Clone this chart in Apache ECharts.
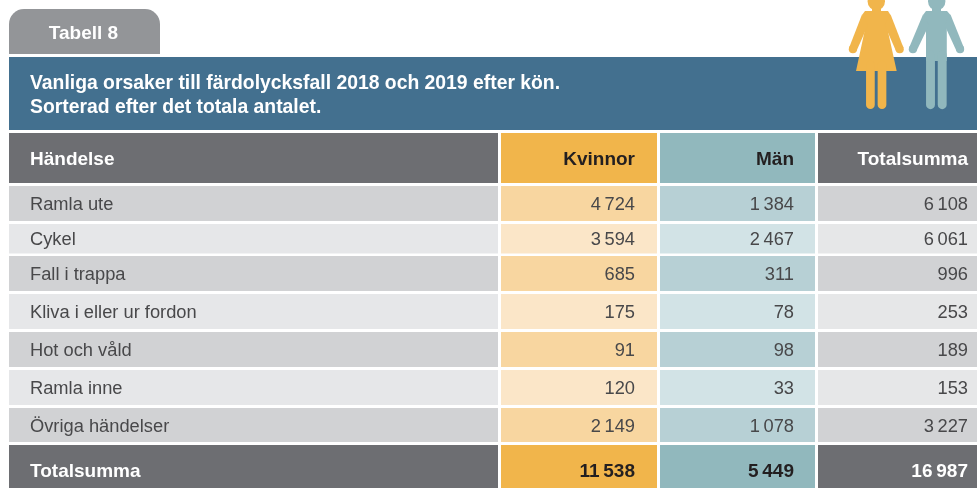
<!DOCTYPE html>
<html><head><meta charset="utf-8">
<style>html,body{margin:0;padding:0;background:#fff}#c{width:977px;height:488px}</style>
<script src="https://cdn.jsdelivr.net/npm/echarts@6/dist/echarts.min.js"></script>
</head><body><div id="c"></div>
<script>
const tabLabel = 'Tabell 8';
const titleLines = ['Vanliga orsaker till färdolycksfall 2018 och 2019 efter kön.', 'Sorterad efter det totala antalet.'];
const columns = ['Händelse', 'Kvinnor', 'Män', 'Totalsumma'];
const categories = ['Ramla ute', 'Cykel', 'Fall i trappa', 'Kliva i eller ur fordon', 'Hot och våld', 'Ramla inne', 'Övriga händelser'];
const kvinnor = [4724, 3594, 685, 175, 91, 120, 2149];
const man = [1384, 2467, 311, 78, 98, 33, 1078];
const totalsumma = [6108, 6061, 996, 253, 189, 153, 3227];
const sumLabel = 'Totalsumma';
const sumRow = [11538, 5449, 16987];

const colEdges = [[9, 498], [501, 657], [660, 815], [818, 977]];
const rowEdges = [[133, 183], [186, 221], [224, 253.5], [256, 291], [294, 329], [332, 367], [370, 405], [408, 442], [445, 488]];
const colTextX = [30, 635, 794, 968];
const rowTextY = [159.5, 204.5, 240, 274.5, 312.5, 350.5, 388.5, 426.5, 471.5];
const HEAD = '#6d6e72', ORANGE = '#f1b54b', TEAL = '#91b8bd', BLUE = '#43708f', TAB = '#939598';
const fills = {
  head: [HEAD, ORANGE, TEAL, HEAD],
  dark: ['#d1d2d4', '#f8d6a0', '#b7d0d5', '#d1d2d4'],
  light: ['#e6e7e9', '#fbe6c8', '#d2e3e6', '#e6e7e8']
};
const BODY = '18.3px "Liberation Sans", Arial, sans-serif';
const BOLD = 'bold 19px "Liberation Sans", Arial, sans-serif';
const TITLE = 'bold 19.35px "Liberation Sans", Arial, sans-serif';
const fmt = v => String(v).replace(/\B(?=(\d{3})+$)/g, '\u2009');

const cells = [];
columns.forEach((c, i) => cells.push([i, 0, c, 'head']));
categories.forEach((c, r) => {
  const t = r % 2 ? 'light' : 'dark';
  cells.push([0, r + 1, c, t], [1, r + 1, fmt(kvinnor[r]), t], [2, r + 1, fmt(man[r]), t], [3, r + 1, fmt(totalsumma[r]), t]);
});
cells.push([0, 8, sumLabel, 'head']);
sumRow.forEach((v, i) => cells.push([i + 1, 8, fmt(v), 'head']));

function renderCell(p, api) {
  const col = api.value(0), row = api.value(1), text = cells[p.dataIndex][2], tone = cells[p.dataIndex][3];
  const a = api.coord([colEdges[col][0], rowEdges[row][0]]);
  const b = api.coord([colEdges[col][1], rowEdges[row][1]]);
  const bold = tone === 'head';
  const white = bold && (col === 0 || col === 3);
  return { type: 'group', children: [
    { type: 'rect', shape: { x: a[0], y: a[1], width: b[0] - a[0], height: b[1] - a[1] }, style: { fill: fills[tone][col] } },
    { type: 'text', style: {
      x: api.coord([colTextX[col], 0])[0], y: api.coord([0, rowTextY[row]])[1], text,
      fill: white ? '#ffffff' : (bold ? '#231f20' : '#48484a'),
      font: bold ? BOLD : BODY,
      align: col === 0 ? 'left' : 'right', verticalAlign: 'middle' } }
  ] };
}

const poly = (points, c) => ({ type: 'polygon', shape: { points }, style: { fill: c }, z: 10 });
const dot = (cx, cy, r, c) => ({ type: 'circle', shape: { cx, cy, r }, style: { fill: c }, z: 10 });
const limb = (x, y1, y2, w, c) => ({ type: 'line', shape: { x1: x, y1, x2: x, y2 }, style: { stroke: c, lineWidth: w, lineCap: 'round' }, z: 10 });
const person = [
  // woman
  dot(876.3, 1.5, 8.7, ORANGE),
  poly([[872, 8], [881, 8], [881, 12], [872, 12]], ORANGE),
  poly([[865, 11], [888, 11], [890.5, 15], [887, 27], [896.7, 71], [856, 71], [865.5, 27], [862, 15]], ORANGE),
  poly([[862, 14.5], [868, 25], [856.5, 51], [849.2, 47.5]], ORANGE), dot(852.9, 49.2, 4.1, ORANGE),
  poly([[890.6, 14.5], [884.6, 25], [896, 51], [903.4, 47.5]], ORANGE), dot(899.7, 49.2, 4.1, ORANGE),
  limb(870.4, 65, 104.7, 8.7, ORANGE), limb(882, 65, 104.7, 8.7, ORANGE),
  // man
  dot(936.7, 1.5, 8.7, TEAL),
  poly([[932, 8], [941, 8], [941, 12], [932, 12]], TEAL),
  poly([[926, 11], [947, 11], [950.5, 15], [946.8, 27], [946.8, 61], [926, 61], [926, 27], [923, 15]], TEAL),
  poly([[923, 14.5], [929, 25], [916.5, 51], [909.2, 47.5]], TEAL), dot(912.9, 49.2, 4.1, TEAL),
  poly([[950.5, 14.5], [944.5, 25], [956.5, 51], [963.8, 47.5]], TEAL), dot(960.1, 49.2, 4.1, TEAL),
  limb(930.5, 55, 104.7, 8.9, TEAL), limb(942.2, 55, 104.7, 8.9, TEAL)
];

const chart = echarts.init(document.getElementById('c'), null, { renderer: 'canvas' });
chart.setOption({
  animation: false,
  backgroundColor: '#ffffff',
  grid: { left: 0, right: 0, top: 0, bottom: 0 },
  xAxis: { type: 'value', min: 0, max: 977, show: false },
  yAxis: { type: 'value', min: 0, max: 488, inverse: true, show: false },
  graphic: { elements: [
    { type: 'rect', shape: { x: 9, y: 9, width: 151, height: 45, r: [15, 15, 0, 0] }, style: { fill: TAB } },
    { type: 'text', style: { x: 83.5, y: 33.5, text: tabLabel, fill: '#fff', font: BOLD, align: 'center', verticalAlign: 'middle' } },
    { type: 'rect', shape: { x: 9, y: 57, width: 968, height: 73 }, style: { fill: BLUE } },
    { type: 'text', style: { x: 30, y: 84, text: titleLines[0], fill: '#fff', font: TITLE, verticalAlign: 'middle' } },
    { type: 'text', style: { x: 30, y: 108, text: titleLines[1], fill: '#fff', font: TITLE, verticalAlign: 'middle' } },
    ...person
  ] },
  series: [{ type: 'custom', coordinateSystem: 'cartesian2d', renderItem: renderCell, silent: true,
    encode: { x: 0, y: 1 }, data: cells.map(c => [c[0], c[1]]) }]
});
</script></body></html>
